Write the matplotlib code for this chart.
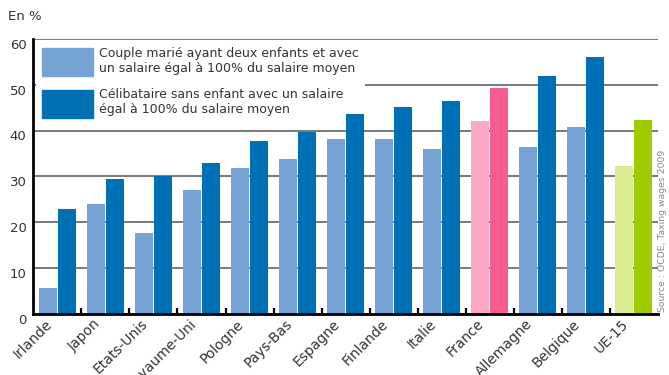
import numpy as np
import matplotlib
matplotlib.use('Agg')
import matplotlib.pyplot as plt
from matplotlib.patches import Patch

# pays et taux (en %)
pays = ['Irlande', 'Japon', 'Etats-Unis', 'Royaume-Uni', 'Pologne', 'Pays-Bas',
        'Espagne', 'Finlande', 'Italie', 'France', 'Allemagne', 'Belgique', 'UE-15']
couple = [5.6, 23.9, 17.7, 26.9, 31.7, 33.7, 38.1, 38.1, 35.9, 42.0, 36.3, 40.7, 32.2]
celibataire = [22.8, 29.5, 30.0, 32.8, 37.8, 39.6, 43.5, 45.1, 46.4, 49.2, 52.0, 56.0, 42.4]

label_couple = 'Couple marié ayant deux enfants et avec\nun salaire égal à 100% du salaire moyen'
label_celib = 'Célibataire sans enfant avec un salaire\négal à 100% du salaire moyen'
source = 'Source : OCDE, Taxing wages 2009'

# couleurs : bleu par défaut, rose pour la France, vert pour l'UE-15
bleu_clair, bleu = '#74a3d4', '#0070b5'
couleurs_couple = [bleu_clair] * 13
couleurs_celib = [bleu] * 13
couleurs_couple[9], couleurs_celib[9] = '#fba8c4', '#f75c91'
couleurs_couple[12], couleurs_celib[12] = '#d9eb8f', '#9eca00'

txt = '#333333'

fig = plt.figure(figsize=(6.69, 3.75), dpi=100)
ax = fig.add_axes([0.050, 0.164, 0.933, 0.732])

x = np.arange(len(pays))
w = 0.375
ax.bar(x - 0.2, couple, width=w, color=couleurs_couple, zorder=3)
ax.bar(x + 0.2, celibataire, width=w, color=couleurs_celib, zorder=3)

ax.set_xlim(-0.5, len(pays) - 0.5)
ax.set_ylim(0, 60)
ax.set_yticks(np.arange(0, 61, 10))
ax.yaxis.grid(True, color='#6e6e6e', lw=1.3, zorder=1)
ax.set_axisbelow(True)

for s in ['top', 'right']:
    ax.spines[s].set_visible(False)
ax.spines['left'].set_linewidth(2)
ax.spines['left'].set_zorder(6)
ax.spines['bottom'].set_linewidth(2)
ax.spines['bottom'].set_zorder(4)

# étiquettes des pays (un peu à gauche du centre), petits traits entre les groupes
ax.set_xticks(x - 0.16)
ax.set_xticklabels(pays, rotation=45, ha='right', va='center',
                   rotation_mode='anchor', fontsize=10, color=txt)
ax.set_xticks(x[:-1] + 0.5, minor=True)
ax.tick_params(axis='x', which='major', length=0, pad=6)
ax.tick_params(axis='x', which='minor', direction='in', length=4, width=1.6, color='black')
ax.tick_params(axis='y', length=0, pad=5, labelsize=9.5, labelcolor=txt)
for lab in ax.get_yticklabels():
    lab.set_verticalalignment('top')

fig.text(0.012, 0.955, 'En %', fontsize=9.5, color=txt, va='center')
fig.text(0.990, 0.168, source, rotation=90, fontsize=6.7, color='#888888',
         ha='center', va='bottom')

# légende sur fond blanc : masque la grille mais reste sous les barres
handles = [Patch(color=bleu_clair), Patch(color=bleu)]
leg = ax.legend(handles, [label_couple, label_celib], loc='upper left',
                bbox_to_anchor=(0.004, 0.995), borderaxespad=0, fontsize=9,
                handlelength=4.1, handleheight=3.07, handletextpad=0.45,
                labelspacing=1.0, borderpad=0.5, frameon=True, fancybox=False)
leg.set_zorder(2.5)
leg.get_frame().set_facecolor('white')
leg.get_frame().set_edgecolor('none')
leg.get_frame().set_alpha(1)
for t in leg.get_texts():
    t.set_color(txt)

fig.savefig('out.png', dpi=100)
